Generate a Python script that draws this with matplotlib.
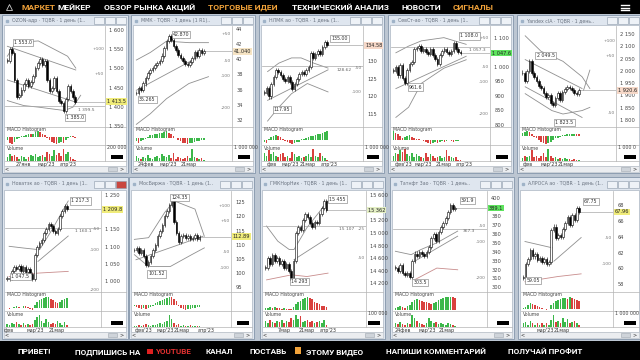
import matplotlib
matplotlib.use("Agg")
import matplotlib.pyplot as plt
import matplotlib.transforms as mtransforms
from matplotlib.patches import Rectangle

# ---------------- data ----------------
menu_items = ["МАРКЕТ", "МЕЙКЕР", "ОБЗОР РЫНКА АКЦИЙ", "ТОРГОВЫЕ ИДЕИ", "ТЕХНИЧЕСКИЙ АНАЛИЗ", "НОВОСТИ", "СИГНАЛЫ"]
menu_colors = ["#f2a33a", "white", "white", "#f2a33a", "white", "white", "#f2a33a"]
footer_items = ["ПРИВЕТ!", "ПОДПИШИСЬ НА", "YOUTUBE", "КАНАЛ", "ПОСТАВЬ", "ЭТОМУ ВИДЕО", "НАПИШИ КОММЕНТАРИЙ", "ПОЛУЧАЙ ПРОФИТ"]
footer_colors = ["white", "white", "#e03030", "white", "white", "white", "white", "white"]

titles = ["OZON-адр · TQBR · 1 день (1..", "ММК · TQBR · 1 день (1 R1)..", "НЛМК ао · TQBR · 1 день (1..",
          "СевСт-ао · TQBR · 1 день (1..", "Yandex clA · TQBR · 1 день..", "Новатэк ао · TQBR · 1 день (1..",
          "МосБиржа · TQBR · 1 день (1..", "ГМКНорНик · TQBR · 1 день (1..", "Татнфт 3ао · TQBR · 1 день..",
          "АЛРОСА ао · TQBR · 1 день (1.."]

# panel 1
p1_close = [1520, 1550, 1540, 1470, 1425, 1430, 1445, 1460, 1470, 1455, 1465, 1480, 1500, 1515, 1525,
            1510, 1520, 1470, 1440, 1450, 1475, 1440, 1415, 1410, 1390, 1420, 1455, 1440, 1425, 1413]
p1_macd = [-3, -5, -6, -4, -2, -1, 0.5, 1, 2, 3, 2.5, 3, 4, 5, 4.5, 3, 2, -1, -3, -4, -5, -6, -5, -4, -5, -3, -1, 1, 0.5, -0.5]
p1_vol = [3, 6, 4, 5, 3, 2, 4, 3, 2, 3, 5, 4, 6, 3, 4, 5, 3, 8, 6, 4, 9, 5, 7, 4, 10, 6, 8, 3, 2, 1]
p1_ylim = (1347, 1611)
p1_ticks = [1350, 1400, 1450, 1500, 1550, 1600]
p1_band_x = [0, 3.5, 13.2, 25.7, 29.2]
p1_upper = [1532, 1567, 1572, 1532, 1501]
p1_lower_x = [0, 7, 13.2, 24.4, 28, 31.3]
p1_lower = [1416, 1403, 1399, 1390, 1399, 1430]
p1_trend = [(0, 1558, 29.2, 1496), (0, 1470, 29.2, 1412)]
p1_level = 1403
p1_labels = [(2.9, 1568, "1 553.0", True), (25, 1371, "1 385.0", True), (30, 1392, "1 399.5", False)]
p1_fib = [("+100", 1551), ("+50", 1485)]
p1_dates = [(7, "27янв"), (16.7, "мар'23"), (26, "апр'23")]

# panel 2
p2_close = [35.5, 36.2, 36.0, 36.8, 37.5, 38.2, 38.6, 38.9, 39.2, 39.5, 39.8, 40.5, 41.5, 42.4, 43.1,
            42.5, 41.8, 41.2, 40.6, 40.2, 39.8, 39.4, 39.2, 39.6, 40.2, 40.9, 40.4, 41.2, 40.8, 41.04]
p2_macd = [-3, -4, -3, -2, -1, 1, 2, 2.5, 3, 3.5, 4, 4.5, 5, 5.5, 4, 3, 1.5, 0, -1.5, -3, -4, -4.5, -5, -4.5, -4, -3.5, -3, -2.5, -2, -1.5]
p2_vol = [5, 3, 2, 4, 3, 6, 3, 2, 4, 5, 3, 7, 5, 4, 6, 3, 8, 2, 4, 3, 2, 3, 5, 3, 12, 4, 3, 2, 3, 1]
p2_ylim = (31.05, 44.4)
p2_ticks = [32, 34, 36, 38, 40, 42, 44]
p2_band_x = [0, 6, 13, 22.6, 31]
p2_upper = [39.9, 40.9, 42.4, 42.2, 42.2]
p2_lower_x = [0, 6, 13, 22.6, 31]
p2_lower = [31.4, 32.8, 34.8, 36.8, 37.7]
p2_trend = [(0, 35.9, 26, 40.2)]
p2_level = None
p2_labels = [(15.6, 43.3, "42.870", True), (1.2, 34.7, "35.265", True)]
p2_fib = [("+50", 43.3), ("-50", 39.8), ("-100", 37.8), ("-200", 33.5)]
p2_dates = [(4.1, "24фев"), (13.5, "мар'23"), (22.6, "21мар")]

# panel 3
p3_close = [121, 122.5, 120, 123.5, 125.5, 127.5, 127, 126, 125, 124.5, 125.5, 124, 122, 123.5,
            125, 126.5, 127, 126.5, 127.5, 128.5, 132.5, 131, 132, 133, 132, 134, 135.5, 134.58]
p3_macd = [-1, -2, 1, 2, 3, 3.5, 3, 2, 1, -0.5, -1.5, -2, -2.5, -2, -1.5, -1, 0.5, 1, 1.5, 2, 2.5, 3, 3.5, 4, 4.5, 5, 5.5, 6]
p3_vol = [6, 4, 8, 5, 7, 4, 3, 5, 6, 3, 4, 2, 7, 5, 3, 4, 2, 3, 4, 5, 3, 9, 4, 3, 6, 4, 2, 1]
p3_ylim = (111.3, 140.1)
p3_ticks = [115, 120, 125, 130]
p3_band_x = [1.4, 6.2, 11.7, 15.8, 21.3, 27.4]
p3_upper = [127.1, 129.5, 131, 131, 129.5, 128.1]
p3_lower_x = [1.4, 6.2, 11.7, 18.5, 27.4]
p3_lower = [113.0, 116.9, 120.8, 123.7, 121.3]
p3_trend = [(1.4, 118.9, 27.4, 127.6)]
p3_level = 128.7
p3_labels = [(28.8, 136.6, "135.00", True), (4.1, 116.2, "117.95", True), (31, 127.6, "128.62", False)]
p3_fib = [("-50", 128.1), ("-100", 121.3)]
p3_dates = [(3.3, "фев"), (11.1, "мар'23"), (18.5, "21мар"), (28, "апр'23")]

# panel 4
p4_close = [985, 1000, 970, 1005, 960, 945, 990, 1010, 1015, 1060, 1065, 1070, 1055, 1060, 1050,
            1045, 1060, 1040, 1025, 1010, 1040, 1055, 1060, 1050, 1045, 1055, 1080, 1060, 1050, 1047]
p4_macd = [5, 4, 3.5, 2, 1, 1.5, 2, 2.5, 1.5, 1, 0.5, 0.2, -0.5, -1, -1.5, -2, -2.5, -2, -1.5, -2,
           -1.5, -1, -1.5, -1, -0.5, -1, -1.5, -1, -0.8, -0.5]
p4_vol = [4, 6, 5, 8, 7, 9, 5, 4, 6, 3, 5, 4, 3, 2, 6, 3, 5, 4, 2, 3, 4, 2, 3, 8, 4, 3, 2, 3, 1, 1]
p4_ylim = (793, 1140)
p4_ticks = [800, 850, 900, 950, 1000, 1100]
p4_band_x = [1.1, 6.6, 12.1, 21.8, 31.4]
p4_upper = [1048, 1071, 1089, 1100, 1077]
p4_lower_x = [1.1, 6.6, 12.1, 21.8, 31.4]
p4_lower = [826, 861, 943, 995, 1024]
p4_trend = [(1.1, 925, 31.4, 1036)]
p4_level = 1068
p4_labels = [(28.9, 1106, "1 108.0", True), (6.6, 930, "961.6", True), (32.6, 1057, "1 057.3", False)]
p4_fib = [("+50", 1100), ("-50", 1000), ("-100", 948), ("-200", 837)]
p4_dates = [(4.5, "фев'23"), (12.8, "мар'23"), (21.9, "21мар"), (30.5, "апр'23")]

# panel 5
p5_close = [1990, 1960, 2000, 2040, 1990, 1975, 1960, 1940, 1930, 1910, 1895, 1900, 1870, 1860,
            1890, 1910, 1880, 1915, 1925, 1935, 1930, 1920, 1910, 1905, 1920]
p5_macd = [3, 4, 5, 4, 2, -1, -3, -5, -7, -8, -9, -8, -7, -5, -3, -2, -1, 0.5, 1, 1.5, 2, 2.5, 2.5, 2, 1.5]
p5_vol = [3, 5, 4, 6, 12, 4, 6, 3, 5, 9, 4, 13, 5, 3, 4, 2, 3, 2, 3, 2, 2, 1, 2, 1, 1]
p5_ylim = (1771, 2183)
p5_ticks = [1800, 1850, 1900, 1950, 2000, 2050, 2100, 2150]
p5_band_x = [1.2, 7.9, 17.2, 25.3, 28.6]
p5_upper = [2143, 2080, 2039, 1976, 1928]
p5_lower_x = [1.2, 7.9, 12.5, 17.2, 25.3, 28.6]
p5_lower = [1907, 1866, 1838, 1824, 1838, 1851]
p5_trend = [(1.2, 2046, 25.3, 1928), (1.2, 1935, 25.3, 1810), (25.9, 1920, 28.6, 2003)]
p5_level = None
p5_labels = [(6.0, 2064, "2 049.5", True), (14, 1789, "1 823.5", True)]
p5_fib = [("+100", 2123), ("+50", 2060), ("-50", 1830)]
p5_dates = [(2.4, "фев"), (11.2, "мар'23"), (18.4, "21мар")]

# panel 6
p6_close = [1005, 1010, 1030, 1040, 1035, 1045, 1030, 1040, 1025, 1035, 1020, 1005, 1075, 1100,
            1110, 1120, 1140, 1150, 1165, 1160, 1145, 1140, 1150, 1190, 1205, 1217, 1209]
p6_macd = [-0.5, -1, -0.5, 0.5, 1, 0.5, -0.5, 1, 0.8, 0.5, -1, -1.5, 2, 4, 5, 6, 6.5, 7, 7.5, 6, 5, 4, 3, 3.5, 5, 6, 6.5]
p6_vol = [3, 2, 4, 3, 5, 3, 2, 4, 2, 3, 2, 3, 7, 10, 12, 6, 4, 8, 5, 3, 4, 3, 6, 4, 2, 5, 2]
p6_ylim = (968, 1262)
p6_ticks = [1000, 1050, 1100, 1150, 1250]
p6_band_x = [0.8, 7.1, 14.1, 19.6, 26.6]
p6_upper = [1101, 1096, 1091, 1150, 1233]
p6_lower_x = [0.8, 13.4, 26.6]
p6_lower = [1013, 1023, 1028]
p6_trend = [(13.4, 1057, 26.6, 1131)]
p6_level = 1155
p6_labels = [(28, 1233, "1 217.3", True), (1.8, 1013, "1 047.5", True), (29.5, 1146, "1 160.1", False)]
p6_fib = [("-50", 1150), ("-100", 1091), ("-200", 974)]
p6_dates = [(0.8, "фев"), (12.1, "мар'23"), (21.7, "21мар")]

# panel 7
p7_close = [108, 109, 107, 108, 106, 103, 104, 106, 108, 110, 113, 115, 117, 120, 122, 124, 125.5,
            118, 114, 111, 113, 113.5, 112.5, 113, 112, 112.5, 113.5, 112, 112.89]
p7_macd = [-1, -2, -3, -3.5, -3, -4, -3, -2, -1, 1, 2, 3, 4, 5, 6, 7, 6.5, 5, 3, -1, -3, -4, -4.5, -4,
           -3.5, -3, -3, -2.5, -2]
p7_vol = [1, 1, 2, 1, 2, 3, 2, 1, 2, 2, 3, 4, 3, 5, 6, 12, 8, 4, 2, 3, 1, 2, 1, 1, 2, 1, 1, 1, 1]
p7_ylim = (93.3, 129)
p7_ticks = [95, 100, 105, 110, 115, 120, 125]
p7_band_x = [0, 6.1, 13, 17.1, 26, 30]
p7_upper = [111.9, 112.5, 121.4, 125.5, 122.6, 113]
p7_lower_x = [0, 6.1, 15.4, 24.6, 30]
p7_lower = [106.5, 102.3, 102.3, 106.5, 108.9]
p7_trend = [(0.7, 104.7, 29.4, 113.0)]
p7_level = None
p7_labels = [(15.7, 126.8, "124.35", True), (6.1, 99.7, "101.52", True)]
p7_fib = [("+100", 123.8), ("+50", 118.4), ("-50", 107.3), ("-100", 101.8)]
p7_dates = [(4.1, "фев'23"), (13.1, "мар'23"), (20.5, "21мар"), (30.7, "апр'23")]

# panel 8
p8_close = [14450, 14600, 14500, 14650, 14550, 14600, 14500, 14550, 14450, 14500, 14400, 14250, 14550,
            15000, 15100, 15050, 15200, 15300, 15250, 15150, 15100, 15180, 15150, 15300, 15400, 15500, 15362]
p8_macd = [1, 1.5, 2, 1.5, 2, 1.5, 1, 0.5, 1, 0.5, 0.3, 0.2, 2, 4, 6, 7, 8, 9, 10, 9, 8, 6, 5, 4, 3, 2.5, 2]
p8_vol = [5, 3, 6, 4, 3, 5, 4, 6, 3, 5, 4, 8, 6, 10, 7, 9, 4, 5, 6, 4, 5, 3, 4, 5, 3, 6, 2]
p8_ylim = (14064, 15664)
p8_ticks = [14200, 14400, 14600, 14800, 15000, 15200, 15600]
p8_band_x = [0.5, 5.3, 10.2, 12.2, 17.7, 26.7]
p8_upper = [15109, 14869, 14736, 14736, 15083, 15509]
p8_lower_x = [0.5, 11.2, 17.7, 26.7]
p8_lower = [14256, 14336, 14309, 14363]
p8_trend = [(12.2, 14576, 26.7, 14923)]
p8_level = 15109
p8_labels = [(27.1, 15536, "15 455", True), (10.9, 14229, "14 293", True), (31.5, 15056, "15 107", False)]
p8_fib = [("-25", 15056), ("-50", 14603)]
p8_dates = [(8.2, "7мар"), (17.7, "21мар"), (26.8, "апр'23")]

# panel 9
p9_close = [322, 318, 325, 316, 314, 316, 312, 330, 338, 335, 340, 337, 335, 340, 345, 355, 360,
            352, 362, 368, 372, 378, 385, 392, 388, 389.1]
p9_macd = [1, 1.5, 2, 1.5, 1, 2, 3, 5, 6, 6.5, 6, 5.5, 5, 4.5, 4, 3.5, 4, 5, 6, 6.5, 7, 7.5, 8, 8, 7.5, 7]
p9_vol = [4, 3, 5, 3, 2, 4, 3, 12, 9, 6, 4, 3, 2, 4, 9, 6, 4, 5, 3, 4, 3, 2, 4, 3, 2, 1]
p9_ylim = (294.7, 408.3)
p9_ticks = [300, 310, 320, 330, 340, 350, 360, 370, 380, 400]
p9_band_x = [0, 6.6, 10.6, 17.3, 26]
p9_upper = [340.5, 336.7, 342.4, 350, 363.2]
p9_lower_x = [7.9, 17.3, 26]
p9_lower = [308.3, 321.6, 319.7]
p9_trend = [(7.9, 329.1, 26, 357.5)]
p9_level = 366
p9_labels = [(27.3, 397.3, "391.9", True), (7.6, 305.1, "303.5", True), (28, 363.0, "367.3", False)]
p9_fib = [("-50", 368.5), ("-100", 350.4), ("-200", 311)]
p9_dates = [(3.2, "24фев"), (13.3, "мар'23"), (21.3, "21мар")]

# panel 10
p10_close = [58.8, 60.5, 61.2, 62.3, 61.5, 61.8, 61.0, 61.3, 60.8, 61.2, 60.5, 60.8, 64.8, 65.3,
             63.8, 64.2, 64.0, 65.0, 65.8, 66.5, 65.5, 66.8, 66.1, 67.6, 67.15]
p10_macd = [0.5, 1, 2, 3, 2.5, 2, 1.5, 1, 0.5, 0.3, -0.2, 0.2, 2, 3, 4, 4.5, 5, 5.5, 5.5, 5, 6, 5.5, 5, 4.5, 4]
p10_vol = [3, 4, 2, 5, 3, 2, 3, 2, 3, 2, 3, 2, 6, 10, 4, 5, 3, 8, 4, 7, 3, 4, 5, 3, 2]
p10_ylim = (57, 69.8)
p10_ticks = [58, 60, 62, 64, 66, 68]
p10_band_x = [0.7, 12.4]
p10_upper = [63.4, 62.6]
p10_lower_x = [0.7, 14.8, 24.8]
p10_lower = [58.3, 58.96, 59.3]
p10_trend = [(13.1, 60.9, 24.8, 63.9)]
p10_level = None
p10_labels = [(26, 68.5, "67.75", True), (1.4, 58.5, "59.05", True)]
p10_fib = [("-50", 63.9), ("-100", 60.5)]
p10_dates = [(9.5, "мар'23"), (16.5, "21мар")]

cur_labels = ["1 413.5", "41.040", "134.58", "1 047.6", "1 920.6", "1 209.8", "112.89", "15 362", "389.1", "67.96"]
cur_colors = ["#f0ec7a", "#f6e4c4", "#f6d8c8", "#5ee35e", "#f6d8c8", "#f0ec7a", "#f0ec7a", "#e4efc4", "#5ee35e", "#f0ec7a"]
vol_labels = ["200 000", "1 000 000", "1 000 000", "", "1 000 0", "", "", "100 000", "", "1 000 000"]
lower_red = [False, False, False, False, False, True, False, True, True, True]
fill = [0.72, 0.73, 0.66, 0.72, 0.63, 0.66, 0.70, 0.63, 0.68, 0.65]

names = ["p1", "p2", "p3", "p4", "p5", "p6", "p7", "p8", "p9", "p10"]
g = globals()
panels = []
for nm in names:
    panels.append({key: g[nm + "_" + key] for key in
                   ["close", "macd", "vol", "ylim", "ticks", "band_x", "upper", "lower_x", "lower",
                    "trend", "level", "labels", "fib", "dates"]})

# ---------------- layout (pixels) ----------------
W, H = 640, 360
rows = [dict(top=15, title_b=25, price=(26, 127), macd=(127, 145), vol=(145, 161), scroll=(166, 172), bottom=173),
        dict(top=177, title_b=190, price=(191, 292), macd=(292, 311), vol=(311, 327), scroll=(332, 338), bottom=339)]
cols = [[(2, 128), (131, 255), (259, 384), (388, 513), (517, 641)],
        [(2, 128), (129, 254), (260, 385), (390, 514), (518, 641)]]
axis_x = [105, 232, 363, 490, 616, 101, 231, 366, 487, 613]

fig = plt.figure(figsize=(6.4, 3.6), dpi=100)
fig.patch.set_facecolor("#bcc6d2")
bg = fig.add_axes([0, 0, 1, 1])
bg.set_xlim(0, W)
bg.set_ylim(H, 0)
bg.axis("off")


def px_axes(x0, y0, x1, y1):
    ax = fig.add_axes([x0 / W, 1 - y1 / H, (x1 - x0) / W, (y1 - y0) / H])
    ax.set_facecolor("none")
    for s in ax.spines.values():
        s.set_visible(False)
    return ax


# top menu bar
bg.add_patch(Rectangle((0, 0), W, 14, fc="black", zorder=5))
bg.plot([9], [7], marker="^", ms=4, mfc="none", mec="#cccccc", mew=0.6, zorder=6)
menu_x = [21, 57, 104, 208, 292, 401, 453]
for x, t, c in zip(menu_x, menu_items, menu_colors):
    bg.text(x, 7.5, t, color=c, fontsize=6.1, fontweight="bold", family="Roboto", va="center", ha="left", zorder=6)
for yy in [5, 7.5, 10]:
    bg.plot([621, 629], [yy, yy], color="white", lw=1, zorder=6)

# bottom bar
bg.add_patch(Rectangle((0, 341), W, 19, fc="black", zorder=5))
foot_x = [18, 75, 155, 206, 249, 306, 386, 508]
for x, t, c in zip(foot_x, footer_items, footer_colors):
    bg.text(x, 352, t, color=c, fontsize=5.9, fontweight="bold", family="Roboto", va="center", ha="left", zorder=6)
bg.add_patch(Rectangle((147, 349), 6, 5, fc="#e02020", zorder=6))
bg.add_patch(Rectangle((295, 347), 6, 7, fc="#f2a33a", zorder=6))

# windows
for k, p in enumerate(panels):
    r = rows[k // 5]
    x0, x1 = cols[k // 5][k % 5]
    ax_x = axis_x[k]
    px0 = x0 + 3
    n = len(p["close"])
    xmax = n / fill[k]

    bg.add_patch(Rectangle((x0, r["top"]), x1 - x0, r["bottom"] - r["top"], fc="#dfe6ef", ec="#8495aa", lw=0.6))
    bg.add_patch(Rectangle((x0 + 2, r["title_b"]), x1 - x0 - 4, r["scroll"][0] - r["title_b"],
                           fc="white", ec="#9aa6b4", lw=0.4))
    ty = (r["top"] + r["title_b"]) / 2 + 0.5
    bg.text(x0 + 10, ty, titles[k], fontsize=3.4, color="#6a7380", va="center", ha="left", clip_on=True)
    for j, bx in enumerate([x1 - 34, x1 - 23, x1 - 12]):
        fc = "#c9473f" if (k == 5 and j == 2) else "#eef2f7"
        bg.add_patch(Rectangle((bx, ty - 3.5), 10, 7, fc=fc, ec="#8c99a8", lw=0.4))
    bg.plot([x0 + 5], [ty], marker="s", ms=2, color="#9fb3c8")

    # pane separators
    for yy in [r["macd"][0], r["vol"][0], r["vol"][1]]:
        bg.plot([px0, x1 - 2], [yy, yy], color="#b4b4b4", lw=0.5)
    bg.plot([ax_x, ax_x], [r["price"][0], r["vol"][1]], color="#b4b4b4", lw=0.5)

    # price pane
    ax = px_axes(px0, r["price"][0], ax_x, r["price"][1])
    lo, hi = p["ylim"]
    c = p["close"]
    o = [c[0]] + c[:-1]
    ext = (hi - lo) * 0.02
    mind = (hi - lo) * 0.008
    bottoms = [min(a, b) for a, b in zip(o, c)]
    heights = [max(abs(a - b), mind) for a, b in zip(o, c)]
    ups = [b >= a for a, b in zip(o, c)]
    idx = list(range(n))
    ax.vlines(idx, [b - ext for b in bottoms], [b + h + ext for b, h in zip(bottoms, heights)],
              color="black", lw=0.4, zorder=3)
    ax.bar(idx, heights, bottom=bottoms, width=0.7, color=["white" if u else "black" for u in ups],
           edgecolor="black", linewidth=0.4, zorder=4)
    ax.plot(p["band_x"], p["upper"], color="#8f8f8f", lw=0.6)
    ax.plot(p["lower_x"], p["lower"], color="#c88c8c" if lower_red[k] else "#8f8f8f", lw=0.6)
    for i0, v0, i1, v1 in p["trend"]:
        ax.plot([i0, i1], [v0, v1], color="#8f8f8f", lw=0.6)
    if p["level"] is not None:
        ax.axhline(p["level"], color="#a8a8a8", lw=0.5)
    ax.plot([n - 1, xmax], [c[-1], c[-1]], color="#a8a8a8", lw=0.5)
    for i, v, t, boxed in p["labels"]:
        if boxed:
            ax.text(i, v, t, fontsize=3.4, ha="left", va="center", color="#333", zorder=6,
                    bbox=dict(fc="white", ec="#777", lw=0.4, pad=0.8))
        else:
            ax.text(i, v, t, fontsize=3.2, ha="left", va="center", color="#666", zorder=6)
    blend = mtransforms.blended_transform_factory(ax.transAxes, ax.transData)
    for t, v in p["fib"]:
        ax.text(0.99, v, t, transform=blend, fontsize=3.2, ha="right", va="center", color="#7a7a7a")
    ax.text(1.02, c[-1], cur_labels[k], transform=blend, fontsize=3.6, ha="left", va="center", color="#222",
            bbox=dict(fc=cur_colors[k], ec="none", pad=0.6), clip_on=False, zorder=7)
    ax.set_xlim(-1, xmax)
    ax.set_ylim(lo, hi)
    ax.yaxis.tick_right()
    ax.set_yticks(p["ticks"], [f"{v:,}".replace(",", " ") for v in p["ticks"]])
    ax.tick_params(axis="y", length=0, labelsize=3.7, pad=3, colors="#444")
    ax.set_xticks([])

    # MACD pane
    am = px_axes(px0, r["macd"][0], ax_x, r["macd"][1])
    m = p["macd"]
    mcol = ["#3cb84a" if (j == 0 or m[j] >= m[j - 1]) else "#d9413e" for j in range(n)]
    am.bar(idx, m, width=0.7, color=mcol)
    top = max(max(m), 0)
    bot = min(min(m), 0)
    span = top - bot
    am.set_ylim(bot - span * 0.1, top + span * 0.35)
    am.set_xlim(-1, xmax)
    am.set_xticks([])
    am.set_yticks([])
    am.text(0.02, 0.86, "MACD Histogram", transform=am.transAxes, fontsize=3.3, color="#444", va="center")

    # volume pane
    av = px_axes(px0, r["vol"][0], ax_x, r["vol"][1])
    av.bar(idx, p["vol"], width=0.7, color=["#3cb84a" if u else "#d9413e" for u in ups])
    av.set_ylim(0, max(p["vol"]) * 1.35)
    av.set_xlim(-1, xmax)
    av.set_yticks([])
    av.set_xticks([d[0] for d in p["dates"]], [d[1] for d in p["dates"]])
    av.tick_params(axis="x", length=0, labelsize=3.5, pad=0.8, colors="#333")
    av.text(0.02, 0.8, "Volume", transform=av.transAxes, fontsize=3.3, color="#444", va="center")
    if vol_labels[k]:
        bg.text(ax_x + 2, r["vol"][0] + 2.5, vol_labels[k], fontsize=3.4, color="#444", va="center", ha="left")
    bg.add_patch(Rectangle((x1 - 17, r["vol"][1] - 6), 12, 4, fc="black"))

    # scrollbar
    s0, s1 = r["scroll"]
    bg.add_patch(Rectangle((x0 + 2, s0), x1 - x0 - 4, s1 - s0, fc="#ebedf0", ec="#b8bec6", lw=0.4))
    bg.add_patch(Rectangle((x1 - 20, s0 + 1), 9, s1 - s0 - 2, fc="#cfd4da", ec="#a0a8b0", lw=0.4))
    bg.text(x0 + 5, (s0 + s1) / 2, "<", fontsize=3.6, va="center", ha="center", color="#333")
    bg.text(x1 - 6, (s0 + s1) / 2, ">", fontsize=3.6, va="center", ha="center", color="#333")

fig.savefig("out.png", dpi=100, facecolor=fig.get_facecolor())
